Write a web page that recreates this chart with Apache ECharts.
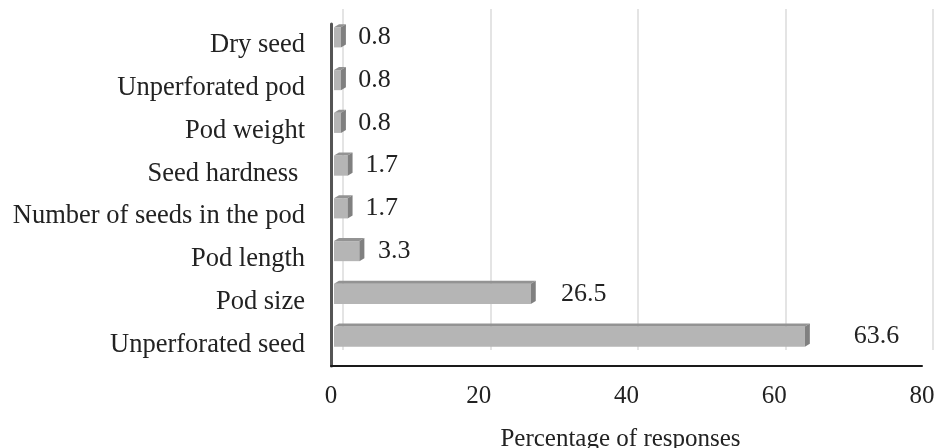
<!DOCTYPE html>
<html>
<head>
<meta charset="utf-8">
<script src="https://cdn.jsdelivr.net/npm/echarts@6/dist/echarts.min.js"></script>
<style>
  html, body { margin: 0; padding: 0; background: #fff; }
  #chart { width: 935px; height: 448px; }
</style>
</head>
<body>
<div id="chart"></div>
<script>
// Reasons given for seed/pod preference, bottom-to-top order
const categories = [
  'Unperforated seed',
  'Pod size',
  'Pod length',
  'Number of seeds in the pod',
  'Seed hardness ',
  'Pod weight',
  'Unperforated pod',
  'Dry seed'
];
const percentages = [63.6, 26.5, 3.3, 1.7, 1.7, 0.8, 0.8, 0.8];
const xTicks = [0, 20, 40, 60, 80];

const FONT = '"Liberation Serif", "Times New Roman", serif';
const chart = echarts.init(document.getElementById('chart'));

// Bars drawn as shaded blocks: a front face, a thin top face, a darker end cap
// and the value written just past the cap.
function renderBlock(params, api) {
  const cat = api.value(1);
  const val = api.value(0);
  const start = api.coord([0, cat]);
  const end = api.coord([val, cat]);
  const band = api.size([0, 1])[1];
  const h = band * 0.47;
  const cy = start[1] - 8;
  const y0 = cy - h / 2;
  const x0 = start[0] + 3;
  const x1 = Math.max(end[0] + 4, x0 + 3);
  const dx = 5, dy = 3;
  return {
    type: 'group',
    children: [
      {
        type: 'rect',
        shape: { x: x0, y: y0, width: x1 - x0, height: h },
        style: { fill: '#b5b5b5' }
      },
      {
        type: 'polygon',
        shape: { points: [[x0, y0], [x1, y0], [x1 + dx, y0 - dy], [x0 + dx, y0 - dy]] },
        style: { fill: '#939393' }
      },
      {
        type: 'polygon',
        shape: { points: [[x1, y0], [x1 + dx, y0 - dy], [x1 + dx, y0 + h - dy], [x1, y0 + h]] },
        style: { fill: '#808080' }
      },
      {
        type: 'text',
        style: {
          text: String(val),
          x: x1 + dx + 12 + val * 0.5,
          y: cy,
          align: 'left',
          verticalAlign: 'middle',
          fill: '#222',
          font: '26px ' + FONT
        }
      }
    ]
  };
}

chart.setOption({
  animation: false,
  grid: [
    { left: 331, right: 13, top: 24, bottom: 82, containLabel: false, outerBoundsMode: 'none' },
    { left: 343, right: 2, top: 9, bottom: 98, containLabel: false, outerBoundsMode: 'none' }
  ],
  xAxis: [
    {
      gridIndex: 0,
      type: 'value',
      min: xTicks[0],
      max: xTicks[xTicks.length - 1],
      interval: 20,
      axisLine: { show: true, lineStyle: { color: '#1a1a1a', width: 2 } },
      axisTick: { show: false },
      splitLine: { show: false },
      axisLabel: { color: '#222', fontFamily: FONT, fontSize: 25, margin: 18 },
      name: 'Percentage of responses',
      nameLocation: 'middle',
      nameGap: 61,
      nameTextStyle: { color: '#222', fontFamily: FONT, fontSize: 25, padding: [0, 12, 0, 0] }
    },
    {
      // back wall gridlines
      gridIndex: 1,
      type: 'value',
      min: xTicks[0],
      max: xTicks[xTicks.length - 1],
      interval: 20,
      axisLine: { show: false },
      axisTick: { show: false },
      axisLabel: { show: false },
      splitLine: { show: true, lineStyle: { color: '#e4e4e4', width: 2 } }
    }
  ],
  yAxis: [
    {
      gridIndex: 0,
      type: 'category',
      data: categories,
      axisLine: { show: true, lineStyle: { color: '#555', width: 3 } },
      axisTick: { show: false },
      axisLabel: { color: '#222', fontFamily: FONT, fontSize: 26.5, margin: 26 }
    },
    {
      gridIndex: 1,
      type: 'category',
      data: categories,
      show: false
    }
  ],
  series: [
    {
      type: 'custom',
      xAxisIndex: 0,
      yAxisIndex: 0,
      renderItem: renderBlock,
      encode: { x: 0, y: 1 },
      data: percentages.map((v, i) => [v, i])
    }
  ]
});
</script>
</body>
</html>
